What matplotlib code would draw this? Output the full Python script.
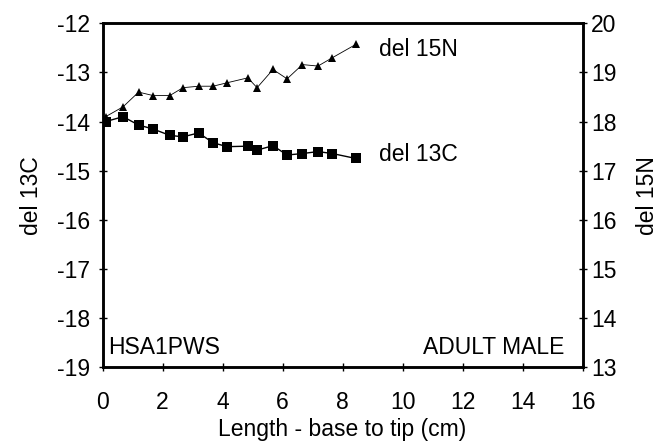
import matplotlib
matplotlib.use("Agg")
import matplotlib.pyplot as plt

plt.rcParams['font.family'] = ['Liberation Sans', 'DejaVu Sans']
plt.rcParams['axes.unicode_minus'] = False

# Data
length_cm = [0.1, 0.68, 1.2, 1.68, 2.24, 2.68, 3.2, 3.68, 4.15, 4.84, 5.15,
             5.68, 6.15, 6.66, 7.18, 7.66, 8.44]
del13C = [-14.0, -13.9, -14.07, -14.15, -14.28, -14.31, -14.23, -14.43, -14.51,
          -14.5, -14.58, -14.49, -14.68, -14.65, -14.61, -14.65, -14.75]
del15N = [18.1, 18.3, 18.6, 18.53, 18.53, 18.69, 18.72, 18.72, 18.79, 18.89,
          18.69, 19.06, 18.87, 19.16, 19.13, 19.3, 19.57]

x_ticks = [0, 2, 4, 6, 8, 10, 12, 14, 16]
c_ticks = [-12, -13, -14, -15, -16, -17, -18, -19]
n_ticks = [13, 14, 15, 16, 17, 18, 19, 20]

fs = 16.5
fig = plt.figure(figsize=(6.62, 4.48), dpi=100)
ax = fig.add_axes([0.155, 0.18, 0.725, 0.768])
ax2 = ax.twinx()

ax.plot(length_cm, del13C, color='black', lw=1.0, marker='s', ms=6.5,
        markeredgewidth=0, zorder=3)
ax2.plot(length_cm, del15N, color='black', lw=0.6, marker='^', ms=6,
         markeredgewidth=0, zorder=3)

ax.set_xlim(0, 16)
ax.set_ylim(-19, -12)
ax2.set_ylim(13, 20)
ax.set_xticks(x_ticks)
ax.set_yticks(c_ticks)
ax2.set_yticks(n_ticks)

for a in (ax, ax2):
    for s in a.spines.values():
        s.set_linewidth(1.8)
ax.tick_params(axis='x', direction='inout', length=6, width=1, pad=14, labelsize=fs)
ax.tick_params(axis='y', direction='inout', length=6, width=1, pad=6, labelsize=fs)
ax2.tick_params(axis='y', direction='inout', length=6, width=1, pad=3, labelsize=fs)

ax.set_xlabel('Length - base to tip (cm)', fontsize=fs, labelpad=3)
ax.set_ylabel('del 13C', fontsize=fs, labelpad=10)
ax2.set_ylabel('del 15N', fontsize=fs, labelpad=14)

ax.text(9.22, -12.53, 'del 15N', fontsize=fs, ha='left', va='center')
ax.text(9.22, -14.67, 'del 13C', fontsize=fs, ha='left', va='center')
ax.text(0.18, -18.6, 'HSA1PWS', fontsize=fs, ha='left', va='center')
ax.text(15.4, -18.6, 'ADULT MALE', fontsize=fs, ha='right', va='center')

fig.savefig('out.png', dpi=100)
